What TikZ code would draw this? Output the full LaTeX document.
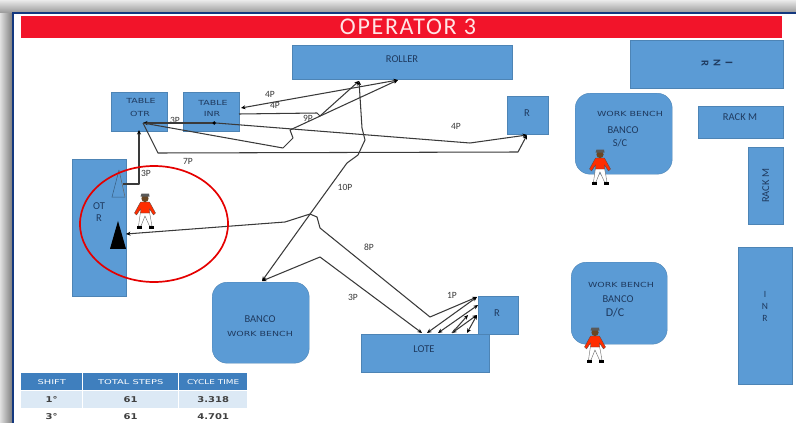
\documentclass[tikz,border=0pt]{standalone}
\usepackage{fontspec}
\setmainfont{Carlito}
\newfontfamily\widef{DejaVu Sans}
\newfontfamily\titlef[LetterSpace=7]{Carlito}
\usetikzlibrary{arrows.meta,shapes.geometric}
\definecolor{boxblue}{HTML}{5B9BD5}
\definecolor{inkblue}{HTML}{1F3A5F}
\definecolor{linegrey}{HTML}{3A3A3A}
\definecolor{hdrblue}{HTML}{3F7FBE}
\definecolor{rowblue}{HTML}{DCE9F5}
\definecolor{framenavy}{HTML}{14387F}
\definecolor{titlered}{HTML}{F2142A}
\newcommand{\wide}[2][1.35]{\scalebox{#1}[1]{#2}}
\tikzset{
  x=1pt,y=-1pt,
  block/.style={fill=boxblue,draw=boxblue!85!black,line width=0.4pt,inner sep=0pt,anchor=north west,text=inkblue,align=center,font=\fontsize{10.5}{12}\selectfont},
  bench/.style={block,rounded corners=15pt},
  lbl/.style={text=inkblue,inner sep=0pt,align=center,font=\fontsize{10.5}{12}\selectfont},
  lblw/.style={text=inkblue,inner sep=0pt,font=\widef\fontsize{7}{9}\selectfont},
  route/.style={draw=linegrey,line width=1.05pt,line join=round},
  tip/.style={-{Stealth[length=4.5pt,width=4pt,black]}},
  tips/.style={{Stealth[length=4.5pt,width=4pt,black]}-{Stealth[length=4.5pt,width=4pt,black]}},
  dottip/.style={{Circle[length=3.5pt,black]}-{Stealth[length=4.5pt,width=4pt,black]}},
  steps/.style={font=\fontsize{9.5}{10}\selectfont,text=linegrey,inner sep=0pt},
  hdr/.style={fill=hdrblue,text=white,inner sep=0pt,anchor=north west,font=\widef\fontsize{6.6}{8}\selectfont},
  cell/.style={inner sep=0pt,anchor=north west,text=black!75,font=\widef\bfseries\fontsize{8}{9}\selectfont},
}
% worker figure, centred on (#1,#2), height about 35
\newcommand{\worker}[2]{%
  \begin{scope}[shift={(#1,#2)}]
    \fill[white,draw=black!60,line width=0.4pt] (-4.5,1) -- (4.5,1) -- (7,15) -- (4.5,15) -- (0,5) -- (-4,15) -- (-6.5,15) -- cycle;
    \fill[black] (-8,15) rectangle (-3,17.5);
    \fill[black] (3.5,15) rectangle (8.5,17.5);
    \fill[orange!35!red,draw=black!70,line width=0.3pt] (-4.5,-9) -- (4.5,-9) -- (10.5,2) -- (8.5,4) -- (4.5,-2) -- (4.5,2) -- (-4.5,2) -- (-4.5,-2) -- (-8.5,4) -- (-10.5,2) -- cycle;
    \fill[brown!55!black] (0,-12.5) circle (3.6);
    \fill[black!65] (-4.5,-14.5) -- (4.5,-14.5) -- (4,-17.5) -- (-3.5,-17.5) -- cycle;
  \end{scope}}
\begin{document}
\begin{tikzpicture}
\useasboundingbox (0,0) rectangle (796,423);
\fill[white] (0,0) rectangle (796,423);
% page shadow and frame
\shade[left color=black!12,right color=black!50] (0,12) rectangle (12,423);
\shade[top color=black!8,bottom color=black!38] (0,0) rectangle (796,12);
\draw[framenavy,line width=1.2pt] (13,423) -- (13,13) -- (796,13);
% title
\node[fill=titlered,text=white,inner sep=0pt,minimum width=761pt,minimum height=22pt,anchor=north west,font=\titlef\fontsize{24}{24}\selectfont] (title) at (21,16) {};
\node[text=white!90!red,inner sep=0pt,font=\titlef\fontsize{24}{24}\selectfont] (titletext) at (408,26.5) {OPERATOR 3};
% blocks
\node[block,minimum width=220pt,minimum height=34pt] (roller) at (292,45) {};
\node[lbl] (rollerlabel) at (402,59) {ROLLER};
\node[block,minimum width=153pt,minimum height=48pt] (rmi) at (630,40) {};
\node[lbl,rotate=-90,font=\bfseries\fontsize{10.5}{12}\selectfont] (rmilabel) at (717,63) {I\\N\\R};
\node[block,minimum width=56pt,minimum height=39pt] (tblotr) at (111,92) {};
\node[lblw] (otra) at (141,101) {\wide{TABLE}};
\node[lblw] (otrb) at (140,114) {\wide{OTR}};
\node[block,minimum width=56pt,minimum height=39pt] (tblinr) at (183,92) {};
\node[lblw] (inra) at (213,103) {\wide{TABLE}};
\node[lblw] (inrb) at (212,114) {\wide{INR}};
\node[block,minimum width=41pt,minimum height=38pt] (rtop) at (507,96) {};
\node[lbl] (rtoplabel) at (527,113) {R};
\node[block,minimum width=85pt,minimum height=32pt] (rackh) at (698,106) {};
\node[lbl] (rackhlabel) at (740,117) {RACK M};
\node[block,minimum width=35pt,minimum height=77pt] (rackv) at (748,147) {\rotatebox{90}{RACK M}};
\node[block,minimum width=54pt,minimum height=137pt] (otr) at (72,159) {};
\node[lbl] (otrlabel) at (99,212.5) {OT\\[0pt]R};
\node[bench,minimum width=97pt,minimum height=81pt] (benchsc) at (575,93) {};
\node[lblw] (benchsca) at (630,114) {\wide{WORK BENCH}};
\node[lbl] (benchscb) at (623,130) {BANCO};
\node[lbl] (benchscc) at (620,143) {S/C};
\node[bench,minimum width=97pt,minimum height=81pt] (benchmid) at (212,282) {};
\node[lbl] (benchmida) at (260,319) {BANCO};
\node[lblw] (benchmidb) at (260,334) {\wide{WORK BENCH}};
\node[bench,minimum width=96pt,minimum height=82pt] (benchdc) at (571,262) {};
\node[lblw] (benchdca) at (621,285) {\wide{WORK BENCH}};
\node[lbl] (benchdcb) at (618,299) {BANCO};
\node[lbl,font=\fontsize{12}{12}\selectfont] (benchdcc) at (615,313) {D/C};
\node[block,minimum width=54pt,minimum height=137pt] (inr) at (738,247) {};
\node[lbl,font=\fontsize{9.5}{12}\selectfont] (inrlabel) at (765,306) {I\\N\\R};
\node[block,minimum width=40pt,minimum height=38pt] (rlow) at (478,296) {};
\node[lbl] (rlowlabel) at (497,313) {R};
\node[block,minimum width=128pt,minimum height=38pt] (lote) at (361,334) {};
\node[lbl] (lotelabel) at (424,349) {LOTE};
% machine marks
\draw[boxblue!60!black,line width=0.5pt] (119,170) -- (112,197) -- (125,197);
\draw[black!60,line width=0.5pt] (119,170) -- (125,197);
\node[fill=black,isosceles triangle,isosceles triangle apex angle=32,shape border rotate=90,minimum height=27pt,minimum width=16pt,inner sep=0pt,anchor=south] (mark) at (118,249) {};
% connector ends
\coordinate (pOTR) at (143,123);
\coordinate (pOTRb) at (139,130);
\coordinate (pINR) at (216,123);
\coordinate (pINRa) at (241,108);
\coordinate (pINRb) at (239,114);
\coordinate (pRolA) at (359,81);
\coordinate (pRolB) at (398,80);
\coordinate (pRa) at (527,135);
\coordinate (pBench) at (262,281);
\coordinate (pLoteA) at (422,333);
\coordinate (pLoteB) at (427,333);
\coordinate (pLoteC) at (438,333);
\coordinate (pLoteD) at (452,333);
\coordinate (pLoteE) at (467,333);
\coordinate (pRa2) at (477,297);
\coordinate (pRb2) at (478,305);
\coordinate (pRc2) at (477,315);
\coordinate (pRd2) at (468,315);
\coordinate (pMark) at (126,234);
\coordinate (pMachine) at (123,184);
% routes
\draw[route,tip] (pMachine) -- (139,184) -- (pOTRb);
\draw[route,dottip] (pINR) -- (pOTR);
\draw[route,tip] (pINR) -- (470,143) -- (pRa);
\draw[route,tip] (pOTR) -- (283,148) -- (293,138) -- (290,130) -- (pRolB);
\draw[route,tip] (pOTR) -- (158,153) -- (518,152) -- (pRa);
\draw[route,tips] (pINRa) -- (pRolB);
\draw[route] (pINRb) -- (317,113) -- (320,116);
\draw[route,tip] (320,116) -- (pRolA);
\draw[route,tips] (pRolA) -- (362,128) -- (365,140) -- (358,155) -- (347,163) -- (313,210) -- (pBench);
\draw[route,tips] (pLoteA) -- (320,257) -- (pBench);
\draw[route,tips] (pMark) -- (285,222) -- (310,214) -- (317,217) -- (320,228) -- (430,317) -- (pRa2);
\draw[route,tips] (pLoteB) -- (pRa2);
\draw[route,tips] (pLoteC) -- (pRb2);
\draw[route,tips] (pLoteD) -- (pRc2);
\draw[route,tips] (pLoteE) -- (pRc2);
\draw[route,tip] (pLoteD) -- (pRd2);
% circle
\node[draw=red!90!black,line width=1.7pt,ellipse,minimum width=148pt,minimum height=116pt,inner sep=0pt] (circ) at (154,224) {};
% step labels
\node[steps] (l4a) at (270,94) {4P};
\node[steps] (l4b) at (275,105) {4P};
\node[steps] (l3a) at (175,120) {3P};
\node[steps] (l9) at (308,118) {9P};
\node[steps] (l7) at (188,161) {7P};
\node[steps] (l3b) at (146,173) {3P};
\node[steps] (l10) at (345,187) {10P};
\node[steps] (l4c) at (456,126) {4P};
\node[steps] (l8) at (369,247) {8P};
\node[steps] (l3c) at (353,297) {3P};
\node[steps] (l1) at (452,295) {1P};
% workers
\worker{145}{211}
\worker{600}{167}
\worker{595}{345}
% table
\node[hdr,minimum width=61pt,minimum height=17pt] (h1) at (21,373) {\wide[1.5]{SHIFT}};
\node[hdr,minimum width=95pt,minimum height=17pt] (h2) at (83,373) {\wide[1.5]{TOTAL STEPS}};
\node[hdr,minimum width=68pt,minimum height=17pt] (h3) at (179,373) {\wide[1.35]{CYCLE TIME}};
\node[cell,fill=rowblue,minimum width=61pt,minimum height=17pt] (a1) at (21,391) {\wide[1.25]{1°}};
\node[cell,fill=rowblue,minimum width=95pt,minimum height=17pt] (a2) at (83,391) {\wide[1.25]{61}};
\node[cell,fill=rowblue,minimum width=68pt,minimum height=17pt] (a3) at (179,391) {\wide[1.25]{3.318}};
\node[cell,minimum width=61pt,minimum height=14pt] (b1) at (21,409) {\wide[1.25]{3°}};
\node[cell,minimum width=95pt,minimum height=14pt] (b2) at (83,409) {\wide[1.25]{61}};
\node[cell,minimum width=68pt,minimum height=14pt] (b3) at (179,409) {\wide[1.25]{4.701}};
\end{tikzpicture}
\end{document}
